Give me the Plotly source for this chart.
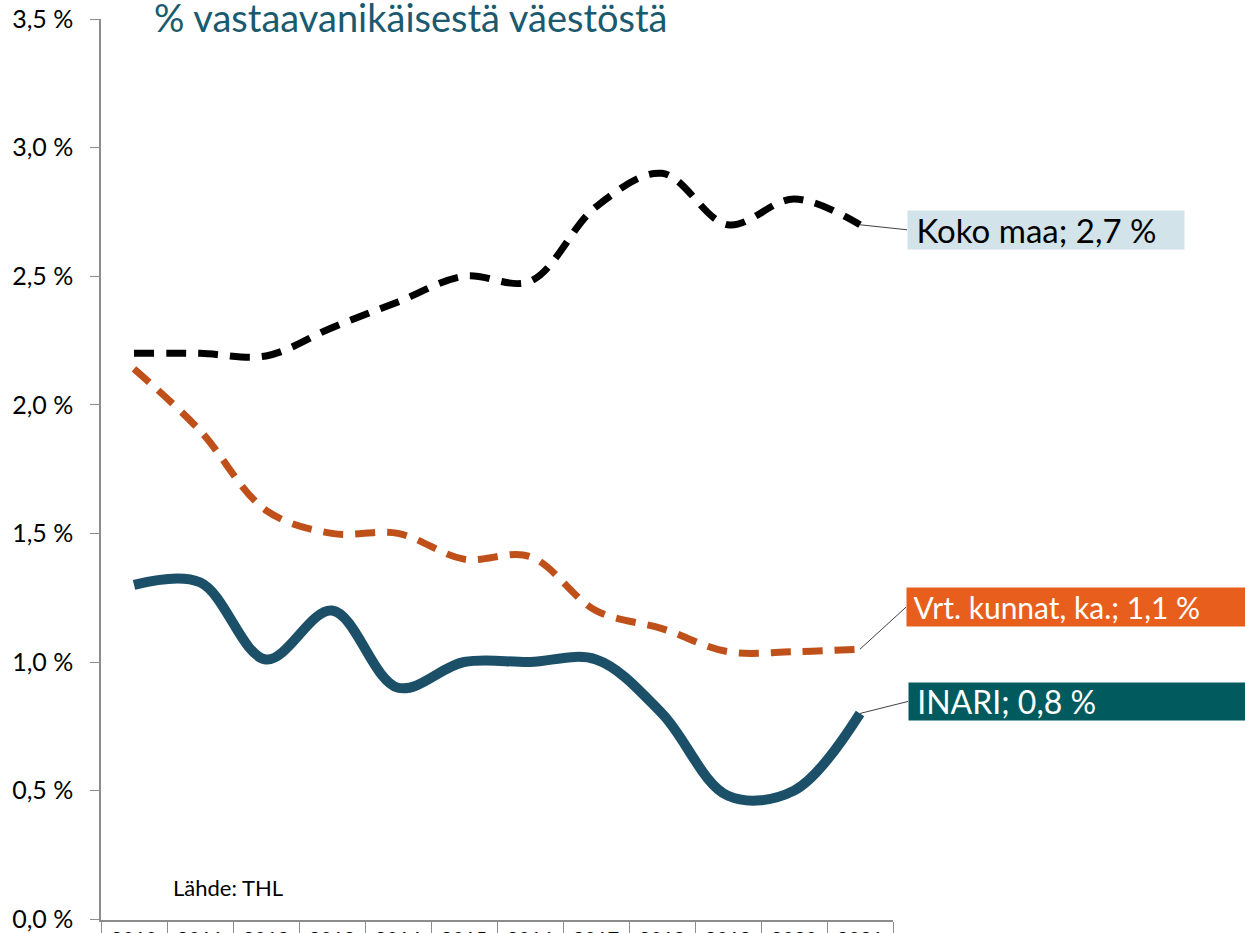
import plotly.graph_objects as go

years = [str(y) for y in range(2010, 2022)]
koko_maa = [2.20, 2.20, 2.19, 2.30, 2.40, 2.50, 2.48, 2.77, 2.90, 2.70, 2.80, 2.70]
vrt_kunnat = [2.14, 1.90, 1.59, 1.50, 1.50, 1.40, 1.41, 1.20, 1.13, 1.04, 1.04, 1.05]
inari = [1.30, 1.31, 1.01, 1.20, 0.90, 1.00, 1.00, 1.01, 0.80, 0.48, 0.50, 0.80]

y_ticks = [0, 0.5, 1.0, 1.5, 2.0, 2.5, 3.0, 3.5]
y_tick_labels = ["0,0 %", "0,5 %", "1,0 %", "1,5 %", "2,0 %", "2,5 %", "3,0 %", "3,5 %"]

label_koko = "Koko maa; 2,7 %"
label_vrt = "Vrt. kunnat, ka.; 1,1 %"
label_inari = "INARI; 0,8 %"

FONT = "Lato"
last = len(years) - 1  # category index of the last year
PAD = "\u00a0"

fig = go.Figure()
fig.add_trace(go.Scatter(x=years, y=koko_maa, mode="lines",
                         line=dict(color="#000000", width=7, dash="20px,12px", shape="spline", smoothing=1),
                         name="Koko maa"))
fig.add_trace(go.Scatter(x=years, y=vrt_kunnat, mode="lines",
                         line=dict(color="#c0501a", width=7, dash="20px,12px", shape="spline", smoothing=1),
                         name="Vrt. kunnat"))
fig.add_trace(go.Scatter(x=years, y=inari, mode="lines",
                         line=dict(color="#1b5068", width=10, shape="spline", smoothing=1),
                         name="INARI"))

ann_common = dict(xref="x", yref="y", axref="pixel", ayref="pixel", showarrow=True, arrowhead=0,
                  arrowwidth=1, arrowcolor="#404040", align="left", xanchor="left",
                  borderpad=0, standoff=0)
fig.add_annotation(x=last, y=koko_maa[-1], text=PAD + label_koko, ax=47, ay=5,
                   bgcolor="#d3e3ea", width=276, height=38,
                   font=dict(family=FONT, size=33, color="#000000"), **ann_common)
fig.add_annotation(x=last, y=vrt_kunnat[-1], text=PAD + label_vrt, ax=46, ay=-42,
                   bgcolor="#e85e1c", width=355, height=38,
                   font=dict(family=FONT, size=30, color="#ffffff"), **ann_common)
fig.add_annotation(x=last, y=inari[-1], text=PAD + label_inari, ax=48, ay=-12,
                   bgcolor="#005a5e", width=355, height=37,
                   font=dict(family=FONT, size=32, color="#ffffff"), **ann_common)

fig.add_annotation(xref="paper", yref="paper", x=0.064, y=1.002, xanchor="left", yanchor="middle",
                   text="% vastaavanikäisestä väestöstä", showarrow=False,
                   font=dict(family=FONT, size=38, color="#1b5a6e"))
fig.add_annotation(xref="paper", yref="paper", x=0.089, y=0.036, xanchor="left", yanchor="middle",
                   text="Lähde: THL", showarrow=False,
                   font=dict(family=FONT, size=22, color="#000000"))

fig.update_layout(
    width=1245, height=933,
    margin=dict(l=101, r=352, t=19, b=13),
    paper_bgcolor="white", plot_bgcolor="white",
    showlegend=False,
    font=dict(family=FONT, size=20, color="#000000"),
)
fig.update_xaxes(type="category", automargin=False,
                 showline=True, linecolor="#8c8c8c", linewidth=1.5, showgrid=False,
                 ticks="outside", tickson="boundaries", ticklen=12, tickcolor="#8c8c8c",
                 tickfont=dict(size=20), range=[-0.5, 11.5])
fig.update_yaxes(range=[-0.003, 3.5], tickvals=y_ticks, ticktext=y_tick_labels, automargin=False,
                 showline=True, linecolor="#8c8c8c", linewidth=1.5, showgrid=False,
                 ticks="outside", ticklen=9, tickcolor="#8c8c8c", zeroline=False,
                 ticklabelstandoff=12, tickfont=dict(size=25))

fig.write_html("out.html", config={"displayModeBar": False},
               post_script="document.body.style.margin='0';")
